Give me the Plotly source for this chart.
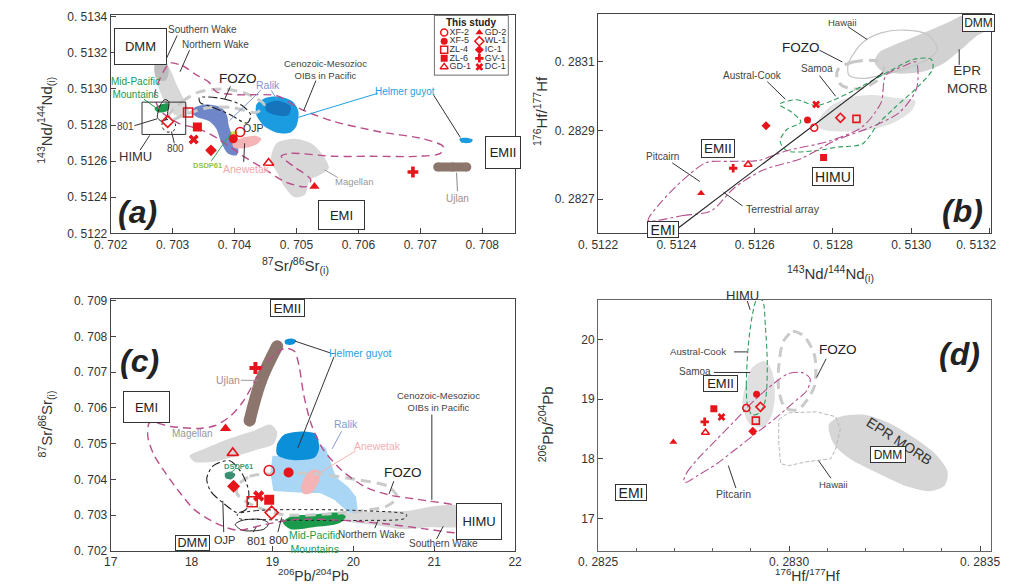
import plotly.graph_objects as go

# ---------------- sample data (this study) ----------------
SAMPLES = ["XF-2", "XF-5", "ZL-4", "ZL-6", "GD-1", "GD-2", "WL-1", "IC-1", "GV-1", "DC-1"]
# (a) 87Sr/86Sr(i) vs 143Nd/144Nd(i)
A_SR = [0.70409, 0.70398, 0.70325, 0.70340, 0.70455, 0.70529, 0.70292, 0.70362, 0.70688, 0.70334]
A_ND = [0.512762, 0.512724, 0.51287, 0.51279, 0.51259, 0.51246, 0.51282, 0.51266, 0.51254, 0.51272]
# (b) 143Nd/144Nd(i) vs 176Hf/177Hf
B_ND = [0.512752, 0.512735, 0.512860, 0.512776, 0.512583, 0.512463, 0.512819, 0.512629, 0.512545, 0.512757]
B_HF = [0.282908, 0.282931, 0.282934, 0.282821, 0.282801, 0.282717, 0.282937, 0.282914, 0.282790, 0.282976]
# (c) 206Pb/204Pb vs 87Sr/86Sr(i)
C_PB = [18.96, 19.20, 18.75, 18.96, 18.51, 18.42, 18.99, 18.52, 18.79, 18.83]
C_SR = [0.704247, 0.704192, 0.70337, 0.703425, 0.70474, 0.705425, 0.703068, 0.703808, 0.70712, 0.703534]
# (d) 176Hf/177Hf vs 206Pb/204Pb
D_HF = [0.282888, 0.282915, 0.282913, 0.282803, 0.282781, 0.282697, 0.282925, 0.282905, 0.282779, 0.282823]
D_PB = [18.85, 19.08, 18.64, 18.84, 18.44, 18.28, 18.87, 18.46, 18.62, 18.70]

# ---------------- reference fields, panel (a) ----------------
A_WAKE_SR = [0.702738, 0.702862, 0.702969, 0.703062, 0.703169, 0.703262, 0.7032, 0.703046, 0.702923, 0.702831, 0.702754, 0.702708]
A_WAKE_ND = [0.513146, 0.513157, 0.513103, 0.513027, 0.512951, 0.512881, 0.512843, 0.512854, 0.512897, 0.512957, 0.513027, 0.513092]
A_SWAKE_SR = [0.702723, 0.702877, 0.702938, 0.702892, 0.702769, 0.702708]
A_SWAKE_ND = [0.513146, 0.513157, 0.513103, 0.513049, 0.513049, 0.513092]
A_MPM_SR = [0.702708, 0.702815, 0.702938, 0.702923, 0.702769]
A_MPM_ND = [0.512892, 0.512914, 0.512919, 0.512881, 0.51287]
A_801_SR = [0.702769, 0.702815, 0.702877, 0.702938, 0.702923, 0.702892, 0.702815, 0.702754]
A_801_ND = [0.512876, 0.512919, 0.512941, 0.51293, 0.512876, 0.512832, 0.512822, 0.512843]
A_800_SR = [0.702846, 0.702969, 0.703046, 0.703015, 0.702908, 0.702831]
A_800_ND = [0.512822, 0.512832, 0.512805, 0.512768, 0.512762, 0.512789]
A_FOZO_SR = [0.702938, 0.703154, 0.703431, 0.703815, 0.7042, 0.704477, 0.704354, 0.703969, 0.703585, 0.7032, 0.702969]
A_FOZO_ND = [0.512854, 0.51293, 0.512984, 0.513, 0.512973, 0.512914, 0.51287, 0.512897, 0.512897, 0.512859, 0.512827]
A_OJP_SR = [0.703431, 0.703815, 0.704123, 0.704262, 0.7042, 0.703923, 0.703615, 0.703446]
A_OJP_ND = [0.512951, 0.512946, 0.512908, 0.512854, 0.512811, 0.512859, 0.512903, 0.512924]
A_RALIK_SR = [0.703354, 0.703554, 0.703785, 0.703877, 0.703908, 0.703969, 0.704062, 0.704031, 0.703892, 0.703785, 0.703708, 0.703585, 0.7034, 0.703308]
A_RALIK_ND = [0.512897, 0.512914, 0.512897, 0.512854, 0.512795, 0.512735, 0.512659, 0.512632, 0.512643, 0.512703, 0.512778, 0.512822, 0.512843, 0.51287]
A_HELMER_SR = [0.704354, 0.704508, 0.704738, 0.704938, 0.705031, 0.705, 0.704892, 0.704692, 0.704477, 0.704354]
A_HELMER_ND = [0.512914, 0.512951, 0.512957, 0.51293, 0.512876, 0.512795, 0.512757, 0.512757, 0.512795, 0.512854]
A_HELMER2_SR = [0.704508, 0.704692, 0.704908, 0.704862, 0.704631, 0.704508]
A_HELMER2_ND = [0.512914, 0.512935, 0.512903, 0.512854, 0.512859, 0.512881]
A_HGUY_SR = [0.707631, 0.707738, 0.707846, 0.707815, 0.707662]
A_HGUY_ND = [0.512724, 0.51273, 0.512719, 0.512703, 0.512703]
A_ANEW_SR = [0.703969, 0.704123, 0.704354, 0.704431, 0.704354, 0.704123, 0.703985]
A_ANEW_ND = [0.512703, 0.51273, 0.51274, 0.512724, 0.512692, 0.51267, 0.512676]
A_DSDP_SR = [0.703938, 0.704046, 0.704046, 0.703938]
A_DSDP_ND = [0.512762, 0.512768, 0.512746, 0.512746]
A_MAG_SR = [0.704692, 0.704969, 0.705246, 0.705431, 0.705523, 0.705354, 0.705215, 0.705138, 0.704969, 0.704815, 0.704692, 0.704585, 0.704615]
A_MAG_ND = [0.512703, 0.512724, 0.512697, 0.512632, 0.512562, 0.512519, 0.512497, 0.512416, 0.5124, 0.512454, 0.512535, 0.512605, 0.512659]
A_UJLAN_SR = [0.70728, 0.70752, 0.70775]
A_UJLAN_ND = [0.512568, 0.512568, 0.512568]
A_OIB_SR = [0.702969, 0.703154, 0.703369, 0.703585, 0.703708, 0.704046, 0.704692, 0.705046, 0.705585, 0.706354,
            0.707046, 0.707369, 0.707323, 0.706969, 0.7062, 0.705585, 0.704892, 0.704754, 0.704969, 0.705231,
            0.705154, 0.704815, 0.704508, 0.704123, 0.703738, 0.703431, 0.703092, 0.702815, 0.702708, 0.702785,
            0.702892, 0.702969]
A_OIB_ND = [0.513146, 0.51313, 0.513081, 0.513038, 0.512984, 0.512968, 0.512962, 0.512892, 0.512822, 0.512762,
            0.512724, 0.512681, 0.512643, 0.512627, 0.512627, 0.512627, 0.512643, 0.512627, 0.512568, 0.512497,
            0.512459, 0.512486, 0.512551, 0.512632, 0.512724, 0.512778, 0.512811, 0.512876, 0.512957, 0.513049,
            0.513119, 0.513146]

# ---------------- reference fields, panel (b) ----------------
B_EPR_ND = [0.512906, 0.512918, 0.512959, 0.513007, 0.513055, 0.513104, 0.513128, 0.513202, 0.513202, 0.513164, 0.513128, 0.51308, 0.513031, 0.512971, 0.512923]
B_EPR_HF = [0.2831, 0.283128, 0.283151, 0.283173, 0.283196, 0.283221, 0.283235, 0.283241, 0.283201, 0.283173, 0.283137, 0.283094, 0.283072, 0.283066, 0.283075]
B_SAMOA_ND = [0.512759, 0.51279, 0.512839, 0.512899, 0.512959, 0.51301, 0.513002, 0.512959, 0.512899, 0.512827, 0.512773]
B_SAMOA_HF = [0.28292, 0.282968, 0.282996, 0.283004, 0.282996, 0.282987, 0.282959, 0.282925, 0.282903, 0.282897, 0.282903]
B_HAW_ND = [0.512839, 0.512875, 0.512923, 0.512983, 0.513043, 0.513067, 0.513043, 0.512983, 0.512923, 0.512875, 0.512841]
B_HAW_HF = [0.283094, 0.283156, 0.283185, 0.283193, 0.283179, 0.283137, 0.283108, 0.28308, 0.283061, 0.283052, 0.283061]
B_FOZO_ND = [0.512814, 0.512851, 0.512911, 0.51293, 0.512911, 0.512863, 0.512822, 0.51281]
B_FOZO_HF = [0.28308, 0.2831, 0.283103, 0.28308, 0.283044, 0.283021, 0.283032, 0.283058]
B_AC_ND = [0.512663, 0.512706, 0.512754, 0.512798, 0.512875, 0.512947, 0.513007, 0.513051, 0.513055, 0.513019,
           0.512959, 0.512916, 0.512875, 0.512814, 0.512754, 0.512682, 0.512665, 0.512682, 0.512718, 0.512694]
B_AC_HF = [0.282976, 0.28299, 0.282973, 0.282987, 0.28303, 0.283075, 0.283108, 0.283108, 0.28308, 0.28303,
           0.282968, 0.28292, 0.282861, 0.282852, 0.282841, 0.282841, 0.282869, 0.282903, 0.282925, 0.282954]
B_PIT_ND = [0.512328, 0.512417, 0.512489, 0.512549, 0.512622, 0.512718, 0.512802, 0.512899, 0.512971, 0.513014, 0.513012,
            0.512983, 0.512935, 0.512923, 0.512875, 0.51279, 0.512682, 0.51261, 0.512537, 0.512477, 0.512417, 0.512357]
B_PIT_HF = [0.282638, 0.282652, 0.282666, 0.282734, 0.282785, 0.282818, 0.282869, 0.282911, 0.282954, 0.283024, 0.2831,
            0.283089, 0.283061, 0.282982, 0.282911, 0.282869, 0.282841, 0.282813, 0.28281, 0.282807, 0.282756, 0.282686]
B_TA_ND = [0.512398, 0.512928]
B_TA_HF = [0.28261, 0.283069]

# ---------------- reference fields, panel (c) ----------------
C_OIB_PB = [19.153, 19.012, 18.859, 18.753, 18.624, 18.471, 18.294, 18.094, 17.741, 17.482, 17.459, 17.529, 17.682, 17.859,
            18.035, 18.306, 18.565, 18.918, 19.306, 19.894, 20.447, 20.918, 21.329, 21.4, 21.329, 20.918, 20.447, 20.153,
            19.859, 19.624, 19.482, 19.388, 19.329, 19.271]
C_OIB_SR = [0.707671, 0.707452, 0.707096, 0.70663, 0.706137, 0.705753, 0.705507, 0.705425, 0.70548, 0.705589, 0.705205,
            0.704712, 0.704164, 0.703616, 0.703151, 0.702767, 0.702575, 0.70274, 0.702877, 0.702849, 0.70274, 0.702603,
            0.702521, 0.70274, 0.703205, 0.703397, 0.703562, 0.703781, 0.704247, 0.704849, 0.705534, 0.706356, 0.707178,
            0.707589]
C_UJLAN_PB = [18.718, 18.859, 19.059]
C_UJLAN_SR = [0.705644, 0.706767, 0.707726]
C_HGUY_PB = [19.153, 19.235, 19.294, 19.259, 19.165]
C_HGUY_SR = [0.70789, 0.707945, 0.70789, 0.707781, 0.707781]
C_HELMER_PB = [19.059, 19.153, 19.388, 19.541, 19.576, 19.518, 19.212, 19.059]
C_HELMER_SR = [0.704986, 0.70526, 0.705342, 0.70526, 0.704849, 0.704603, 0.704548, 0.704685]
C_RALIK_PB = [19.0, 19.506, 19.576, 19.659, 19.718, 19.788, 19.941, 20.035, 20.059, 19.941, 19.765, 19.588, 19.424, 19.176, 19.012, 18.976]
C_RALIK_SR = [0.704658, 0.70463, 0.704986, 0.704877, 0.704493, 0.704055, 0.703781, 0.703507, 0.703041, 0.703068, 0.703425, 0.703616, 0.703616, 0.703644, 0.703671, 0.704164]
C_ANEW_PB = [19.353, 19.412, 19.506, 19.588, 19.576, 19.482, 19.388]
C_ANEW_SR = [0.703753, 0.70411, 0.704274, 0.704219, 0.703945, 0.703616, 0.703589]
C_FOZO_PB = [18.565, 18.718, 19.118, 19.506, 20.094, 20.424, 20.541, 20.424, 19.894, 19.118, 18.718, 18.565]
C_FOZO_SR = [0.703808, 0.704082, 0.704164, 0.704164, 0.703973, 0.703808, 0.703507, 0.70326, 0.703068, 0.703014, 0.703315, 0.703589]
C_OJP_PB = [18.271, 18.471, 18.624, 18.706, 18.682, 18.565, 18.388, 18.235, 18.188]
C_OJP_SR = [0.704384, 0.704521, 0.704164, 0.703671, 0.703178, 0.703068, 0.703342, 0.703671, 0.704027]
C_DSDP_PB = [18.412, 18.482, 18.541, 18.494, 18.424]
C_DSDP_SR = [0.704164, 0.704219, 0.704137, 0.704, 0.704027]
C_800_PB = [18.565, 18.8, 19.506, 20.094, 20.659, 20.635, 20.094, 19.506, 18.8, 18.588]
C_800_SR = [0.703014, 0.703123, 0.703151, 0.703123, 0.703014, 0.702904, 0.702849, 0.702849, 0.702877, 0.702904]
C_801_PB = [18.541, 18.624, 18.859, 18.953, 18.894, 18.624]
C_801_SR = [0.70274, 0.702849, 0.702877, 0.702767, 0.702603, 0.702575]
C_MPM_PB = [19.129, 19.224, 19.506, 19.812, 19.906, 19.824, 19.506, 19.224]
C_MPM_SR = [0.702795, 0.702959, 0.703014, 0.703068, 0.702959, 0.702767, 0.702658, 0.702603]
C_WAKE_PB = [19.859, 20.212, 20.682, 21.035, 21.329, 21.365, 21.329, 20.918, 20.624, 20.212, 19.894]
C_WAKE_SR = [0.703014, 0.703096, 0.703123, 0.70326, 0.703233, 0.702849, 0.702685, 0.702658, 0.702603, 0.70274, 0.702849]
C_MAG_PB = [17.976, 18.153, 18.447, 18.776, 18.976, 19.059, 19.012, 18.8, 18.565, 18.271, 18.035]
C_MAG_SR = [0.704658, 0.704849, 0.705123, 0.70537, 0.705534, 0.705315, 0.704986, 0.704822, 0.704658, 0.704493, 0.704493]

# ---------------- reference fields, panel (d) ----------------
D_AC_HF = [0.282891, 0.282888, 0.282893, 0.282903, 0.282915, 0.28293, 0.282938, 0.282943, 0.282938, 0.282923, 0.282903]
D_AC_PB = [18.902, 19.23, 19.885, 20.377, 20.656, 20.656, 20.213, 19.557, 18.984, 18.77, 18.738]
D_SAMOA_HF = [0.282878, 0.282886, 0.282903, 0.282935, 0.282955, 0.282963, 0.282955, 0.282935, 0.282898]
D_SAMOA_PB = [18.902, 19.23, 19.525, 19.639, 19.475, 19.066, 18.738, 18.541, 18.574]
D_FOZO_HF = [0.282985, 0.28301, 0.28304, 0.283067, 0.283067, 0.283047, 0.283022, 0.28299, 0.282973, 0.282973]
D_FOZO_PB = [19.967, 20.131, 20.049, 19.721, 19.23, 18.984, 18.82, 18.852, 19.148, 19.557]
D_PIT_HF = [0.282724, 0.282731, 0.282761, 0.282811, 0.282861, 0.28291, 0.28296, 0.282998, 0.283035, 0.283055, 0.283047,
            0.28301, 0.28296, 0.28291, 0.282861, 0.282811, 0.282761, 0.282731]
D_PIT_PB = [17.623, 17.754, 18.0, 18.328, 18.656, 18.984, 19.262, 19.426, 19.443, 19.344, 19.148, 18.934, 18.656, 18.41,
            18.164, 17.918, 17.721, 17.607]
D_HAW_HF = [0.282973, 0.282998, 0.283072, 0.283122, 0.283134, 0.283122, 0.283109, 0.283047, 0.282998, 0.282978, 0.282973]
D_HAW_PB = [18.656, 18.77, 18.787, 18.705, 18.492, 18.164, 18.0, 17.951, 17.885, 17.918, 18.246]
D_EPR_HF = [0.283104, 0.283134, 0.283197, 0.283259, 0.283321, 0.283383, 0.283415, 0.283408, 0.283371, 0.283308, 0.283234, 0.283159, 0.283117]
D_EPR_PB = [18.574, 18.705, 18.738, 18.607, 18.377, 18.082, 17.787, 17.557, 17.459, 17.541, 17.754, 18.0, 18.246]

# ---------------- ticks ----------------
A_XTICKS = [0.702, 0.703, 0.704, 0.705, 0.706, 0.707, 0.708]
A_YTICKS = [0.5122, 0.5124, 0.5126, 0.5128, 0.5130, 0.5132, 0.5134]
B_XTICKS = [0.5122, 0.5124, 0.5126, 0.5128, 0.5130, 0.5132]
B_YTICKS = [0.2827, 0.2829, 0.2831]
C_XTICKS = [17, 18, 19, 20, 21, 22]
C_YTICKS = [0.702, 0.703, 0.704, 0.705, 0.706, 0.707, 0.708, 0.709]
D_XTICKS = [0.2825, 0.2830, 0.2835]
D_YTICKS = [17, 18, 19, 20]

# ---------------- styling ----------------
W, H = 1024, 585
FONT = "Liberation Sans, Arial, Helvetica, sans-serif"
RED = "#e8141b"
GRAY = "#d8d8d8"
PURPLE = "#b94e8a"
NBSP = "\u00a0"
SYMBOLS = {"XF-2": "circle-open", "XF-5": "circle", "ZL-4": "square-open", "ZL-6": "square",
           "GD-1": "triangle-up-open", "GD-2": "triangle-up", "WL-1": "diamond-open", "IC-1": "diamond",
           "GV-1": "cross", "DC-1": "x"}

fig = go.Figure()

AX = {"a": ("x", "y"), "b": ("x2", "y2"), "c": ("x3", "y3"), "d": ("x4", "y4")}


def closed(v):
    return list(v) + [v[0]]


def field(xs, ys, p, fill=None, line=None, width=1.0, dash=None, smooth=True, close=True):
    x = closed(xs) if close else list(xs)
    y = closed(ys) if close else list(ys)
    fig.add_trace(go.Scatter(
        x=x, y=y, xaxis=AX[p][0], yaxis=AX[p][1], mode="lines",
        fill="toself" if fill else "none", fillcolor=fill,
        line=dict(color=line if line else "rgba(0,0,0,0)", width=width if line else 0,
                  dash=dash, shape="spline" if smooth else "linear", smoothing=0.8),
        hoverinfo="skip", showlegend=False))


def bar(xs, ys, p, color, width):
    fig.add_trace(go.Scatter(
        x=xs, y=ys, xaxis=AX[p][0], yaxis=AX[p][1], mode="lines+markers",
        line=dict(color=color, width=width, shape="spline"),
        marker=dict(color=color, size=width, line=dict(width=0)),
        hoverinfo="skip", showlegend=False))


def samples(xs, ys, p, size):
    for name, x, y in zip(SAMPLES, xs, ys):
        sym = SYMBOLS[name]
        op = sym.endswith("-open")
        fig.add_trace(go.Scatter(
            x=[x], y=[y], xaxis=AX[p][0], yaxis=AX[p][1], mode="markers", name=name,
            marker=dict(symbol=sym, size=size, color=RED, line=dict(color=RED, width=1.6 if op else 0)),
            showlegend=False))


# ---- panel (a)
field(A_WAKE_SR, A_WAKE_ND, "a", fill=GRAY)
field(A_SWAKE_SR, A_SWAKE_ND, "a", fill="#bdbdbd")
field(A_MAG_SR, A_MAG_ND, "a", fill=GRAY)
field(A_RALIK_SR, A_RALIK_ND, "a", fill="#6f86c9")
field(A_HELMER_SR, A_HELMER_ND, "a", fill="#1b9be0")
field(A_HELMER2_SR, A_HELMER2_ND, "a", fill="#1574bb")
field(A_HGUY_SR, A_HGUY_ND, "a", fill="#1b9be0")
field(A_ANEW_SR, A_ANEW_ND, "a", fill="#f4b5b7")
field(A_DSDP_SR, A_DSDP_ND, "a", fill="#d8e03c", smooth=False)
field(A_MPM_SR, A_MPM_ND, "a", fill="#1b9a4b")
bar(A_UJLAN_SR, A_UJLAN_ND, "a", "#8c756c", 9)
field(A_FOZO_SR, A_FOZO_ND, "a", line="#cacaca", width=3, dash="10px,6px")
field(A_OJP_SR, A_OJP_ND, "a", line="#222", width=1.1, dash="dashdot")
field(A_801_SR, A_801_ND, "a", line="#222", width=1)
field(A_800_SR, A_800_ND, "a", line="#222", width=1, dash="dot")
field(A_OIB_SR, A_OIB_ND, "a", line=PURPLE, width=1.4, dash="8px,5px")
samples(A_SR, A_ND, "a", 9)

# ---- panel (b)
field(B_EPR_ND, B_EPR_HF, "b", fill="#d2d2d2")
field(B_SAMOA_ND, B_SAMOA_HF, "b", fill="#e2e2e2")
field(B_HAW_ND, B_HAW_HF, "b", line="#c4c4c4", width=1.2)
field(B_FOZO_ND, B_FOZO_HF, "b", line="#c8c8c8", width=3, dash="10px,6px")
field(B_AC_ND, B_AC_HF, "b", line="#2e9e5b", width=1.1, dash="5px,3px")
field(B_PIT_ND, B_PIT_HF, "b", line="#b4508f", width=1.1, dash="dashdot")
fig.add_trace(go.Scatter(x=B_TA_ND, y=B_TA_HF, xaxis="x2", yaxis="y2", mode="lines",
                         line=dict(color="#222", width=1.1), hoverinfo="skip", showlegend=False))
samples(B_ND, B_HF, "b", 7)

# ---- panel (c)
field(C_WAKE_PB, C_WAKE_SR, "c", fill=GRAY)
field(C_MAG_PB, C_MAG_SR, "c", fill=GRAY)
field(C_RALIK_PB, C_RALIK_SR, "c", fill="#a9d6f4", smooth=False)
field(C_HELMER_PB, C_HELMER_SR, "c", fill="#0b8fd8")
field(C_ANEW_PB, C_ANEW_SR, "c", fill="#f4b3b5")
field(C_HGUY_PB, C_HGUY_SR, "c", fill="#0b8fd8")
field(C_MPM_PB, C_MPM_SR, "c", fill="#1b9a4b")
field(C_DSDP_PB, C_DSDP_SR, "c", fill="#3a8f72")
bar(C_UJLAN_PB, C_UJLAN_SR, "c", "#8c756c", 12)
field(C_FOZO_PB, C_FOZO_SR, "c", line="#cacaca", width=3, dash="10px,6px")
field(C_OJP_PB, C_OJP_SR, "c", line="#222", width=1.1, dash="dashdot")
field(C_800_PB, C_800_SR, "c", line="#222", width=1, dash="dot")
field(C_801_PB, C_801_SR, "c", line="#222", width=1)
field(C_OIB_PB, C_OIB_SR, "c", line=PURPLE, width=1.4, dash="8px,5px")
samples(C_PB, C_SR, "c", 10)

# ---- panel (d)
field(D_EPR_HF, D_EPR_PB, "d", fill="#d6d6d6")
field(D_SAMOA_HF, D_SAMOA_PB, "d", fill="#e0e0e0")
field(D_HAW_HF, D_HAW_PB, "d", line="#b8b8b8", width=1, dash="4px,2px", smooth=False)
field(D_FOZO_HF, D_FOZO_PB, "d", line="#cacaca", width=3, dash="10px,6px")
field(D_AC_HF, D_AC_PB, "d", line="#2e9e5b", width=1.1, dash="5px,3px")
field(D_PIT_HF, D_PIT_PB, "d", line="#b4508f", width=1.1, dash="dashdot")
samples(D_HF, D_PB, "d", 7)

# ---- "This study" key, drawn on its own small axis
fig.add_trace(go.Scatter(
    x=[i // 5 for i in range(len(SAMPLES))], y=[i % 5 for i in range(len(SAMPLES))],
    xaxis="x5", yaxis="y5", mode="markers+text", text=SAMPLES, textposition="middle right",
    textfont=dict(size=9, color="#333", family=FONT),
    marker=dict(symbol=[SYMBOLS[s] for s in SAMPLES], size=7, color=RED,
                line=dict(color=RED, width=[1.5 if SYMBOLS[s].endswith("-open") else 0 for s in SAMPLES])),
    hoverinfo="skip", showlegend=False))


# ---------------- axes ----------------
def fmt(v, nd):
    return f"{v:.{nd}f}".replace("0.", "0. ", 1)


def axis(domain, rng, ticks, text, anchor, **kw):
    d = dict(domain=domain, range=rng, tickvals=ticks, ticktext=text, anchor=anchor,
             showgrid=False, zeroline=False, showline=True, mirror=True, linecolor="#444", linewidth=1,
             ticks="inside", ticklen=5, tickcolor="#444", ticklabeloverflow="allow",
             tickfont=dict(size=12, color="#333", family=FONT))
    d.update(kw)
    return d


def px_x(v):
    return v / W


def px_y(v):
    return 1 - v / H


# last Nd tick label in (b) sits inside the frame, as in the original
B_XTEXT = [fmt(v, 4) for v in B_XTICKS]
B_XTEXT[-1] = B_XTEXT[-1] + NBSP * 8

layout = dict(
    width=W, height=H, margin=dict(l=0, r=0, t=0, b=0), autosize=False,
    paper_bgcolor="white", plot_bgcolor="white", showlegend=False,
    font=dict(family=FONT, color="#333"),
    xaxis=axis([px_x(87), px_x(512)], [0.702, 0.70852], A_XTICKS, [fmt(v, 3) for v in A_XTICKS], "y"),
    yaxis=axis([px_y(225), px_y(2)], [0.5122, 0.51341], A_YTICKS, [fmt(v, 4) for v in A_YTICKS], "x"),
    xaxis2=axis([px_x(600), px_x(1014)], [0.5122, 0.513205], B_XTICKS, B_XTEXT, "y2"),
    yaxis2=axis([px_y(225), px_y(1)], [0.28260, 0.28324], B_YTICKS, [fmt(v, 4) for v in B_YTICKS], "x2"),
    xaxis3=axis([px_x(87), px_x(513)], [17, 22.005], C_XTICKS, [str(v) for v in C_XTICKS], "y3"),
    yaxis3=axis([px_y(549), px_y(292)], [0.702, 0.70905], C_YTICKS, [fmt(v, 3) for v in C_YTICKS], "x3"),
    xaxis4=axis([px_x(600), px_x(1014)], [0.2825, 0.28353], D_XTICKS, [fmt(v, 4) for v in D_XTICKS], "y4",
                linecolor="#666", minor=dict(dtick=0.0001, tick0=0.2825, ticks="inside", ticklen=3, tickcolor="#666")),
    yaxis4=axis([px_y(549), px_y(293)], [16.46, 20.66], D_YTICKS, [str(v) for v in D_YTICKS], "x4", linecolor="#666"),
    xaxis5=dict(domain=[px_x(428), px_x(505)], range=[-0.27, 1.81], visible=False, anchor="y5", fixedrange=True),
    yaxis5=dict(domain=[px_y(63), px_y(3)], range=[4.91, -1.94], visible=False, anchor="x5", fixedrange=True),
)
fig.update_layout(**layout)

annotations = []
shapes = []


def label(text, x, y, size, color="#333", **kw):
    a = dict(text=text, x=px_x(x), y=px_y(y), xref="paper", yref="paper", showarrow=False,
             font=dict(size=size, color=color, family=FONT), xanchor="center", yanchor="middle")
    a.update(kw)
    annotations.append(a)


def box(text, cx, cy, w, h, size):
    annotations.append(dict(text=text, x=px_x(cx), y=px_y(cy), xref="paper", yref="paper", showarrow=False,
                            font=dict(size=size, color="#222", family=FONT), width=w, height=h,
                            bordercolor="#333", borderwidth=1, borderpad=0, bgcolor="white",
                            xanchor="center", yanchor="middle", align="center", valign="middle"))


def leader(x0, y0, x1, y1, color="#333", width=1):
    shapes.append(dict(type="line", xref="paper", yref="paper", x0=px_x(x0), y0=px_y(y0),
                       x1=px_x(x1), y1=px_y(y1), line=dict(color=color, width=width)))


# key frame
shapes.append(dict(type="rect", xref="paper", yref="paper", x0=px_x(428), y0=px_y(63), x1=px_x(505), y1=px_y(3),
                   line=dict(color="#444", width=1.5), fillcolor="white", layer="below"))
label("<b>This study</b>", 466, 10, 10, "#222")

# panel (a) labels
for t, x, y, s, c in [
    ("Southern Wake", 184, 17, 10, "#444"), ("Northern Wake", 197, 32, 10, "#444"),
    ("FOZO", 221, 67, 13.5, "#222"), ("Mid-Pacific<br>Mountains", 113, 77, 10, "#1a9a4a"),
    ("801", 103, 116, 10, "#444"), ("800", 155, 138, 10, "#444"), ("HIMU", 113, 147, 13, "#333"),
    ("Ralik", 253, 73, 10.5, "#7f93d4"), ("OJP", 237, 117, 10.5, "#333"),
    ("Anewetak", 230, 159, 10.5, "#f2a8ab"), ("<b>DSDP61</b>", 189, 156, 7.5, "#8dc63f"),
    ("Cenozoic-Mesozioc<br>OIBs in Pacific", 313, 58, 9.5, "#444"),
    ("Helmer guyot", 397, 80, 10, "#1fa0e2"), ("Magellan", 344, 172, 9.5, "#999"),
    ("Ujlan", 452, 189, 10, "#a88b84")]:
    label(t, x, y, s, c)
for seg in [(157, 23, 143, 52), (170, 38, 160, 60), (213, 75, 207, 88), (122, 88, 135, 97, "#1a9a4a"),
            (112, 115, 136, 108), (151, 121, 154, 133), (118, 140, 128, 125),
            (245, 79, 212, 110, "#7f93d4"), (256, 79, 262, 88, "#7f93d4"), (227, 152, 228, 133),
            (193, 151, 214, 122, "#3aa35a"), (303, 69, 290, 100), (368, 82, 283, 107, "#1fa0e2"),
            (427, 84, 455, 127), (326, 168, 312, 160, "#999"), (451, 163, 452, 182, "#888")]:
    leader(*seg)
box("DMM", 118.5, 34.5, 51, 35, 13)
box("EMI", 329.5, 206, 45, 28, 13)
box("EMII", 500, 142.5, 34, 31, 13)
shapes.append(dict(type="rect", xref="paper", yref="paper", x0=px_x(120), y0=px_y(124), x1=px_x(166), y1=px_y(91),
                   line=dict(color="#333", width=1)))

# panel (b) labels
for t, x, y, s, c in [
    ("Hawaii", 857, 10, 9.5, "#444"), ("FOZO", 813, 35, 13.5, "#222"), ("Samoa", 830, 57, 10, "#444"),
    ("Austral-Cook", 763, 64, 10, "#444"), ("EPR<br>MORB", 989, 68, 13.5, "#333"),
    ("Pitcairn", 668, 146, 10, "#444"), ("Terrestrial array", 795, 200, 10.5, "#444")]:
    label(t, x, y, s, c)
for seg in [(863, 14, 883, 27), (833, 38, 857, 50), (833, 64, 850, 85), (778, 70, 797, 88),
            (980, 37, 980, 53), (678, 153, 707, 172), (732, 183, 752, 197)]:
    leader(*seg)
box("DMM", 1000, 10, 31, 16, 12)
box("EMII", 726, 138.5, 32, 17, 13.5)
box("HIMU", 847, 166.5, 40, 17, 14)
box("EMI", 668, 221, 30, 15, 14)

# panel (c) labels
for t, x, y, s, c in [
    ("Ujlan", 211, 375, 10.5, "#a0908a"), ("Magellan", 173, 429, 10, "#999"),
    ("Helmer guyot", 350, 347, 10.5, "#1fa0e2"), ("Ralik", 335, 420, 10.5, "#8899d6"),
    ("Anewetak", 368, 442, 10.5, "#f4b0b3"), ("Cenozoic-Mesozioc<br>OIBs in Pacific", 432, 397, 9.5, "#444"),
    ("FOZO", 395, 469, 13.5, "#222"), ("<b>DSDP61</b>", 222, 463, 7.5, "#3d9a7a"),
    ("OJP", 207, 538, 11, "#333"), ("801", 240, 539, 11.5, "#333"), ("800", 264, 538, 11.5, "#333"),
    ("Mid-Pacific<br>Mountains", 302, 540, 10.5, "#1f9a4a"), ("Northern Wake", 361, 532, 10, "#444"),
    ("Southern Wake", 437, 542, 10, "#444")]:
    label(t, x, y, s, c)
for seg in [(224, 375, 242, 375, "#999"), (318, 347, 281, 335), (322, 351, 284, 444),
            (330, 427, 320, 445, "#8899d6"), (345, 447, 306, 470, "#f4b0b3"), (425, 410, 425, 497),
            (385, 478, 380, 491), (212, 470, 218, 466, "#3d9a7a"), (206, 530, 205, 498),
            (237, 530, 240, 525), (263, 530, 267, 515), (365, 526, 368, 519), (430, 537, 437, 524)]:
    leader(*seg)
box("EMI", 124.5, 402, 45, 30, 13)
box("EMII", 273.5, 301, 33, 16, 13.5)
box("HIMU", 475, 519.5, 44, 35, 13)
box("DMM", 173.5, 541.5, 33, 14, 12.5)

# panel (d) labels
for t, x, y, s, c in [
    ("HIMU", 752, 288, 13, "#333"), ("Austral-Cook", 705, 346, 9.7, "#444"), ("Samoa", 702, 366, 10, "#444"),
    ("FOZO", 852, 344, 13.5, "#222"), ("Hawaii", 848, 481, 9.5, "#444"), ("Pitcarin", 743, 491, 10.5, "#444")]:
    label(t, x, y, s, c)
label("EPR MORB", 917, 437, 14, "#333", textangle=33)
for seg in [(757, 294, 760, 303), (743, 346, 757, 346), (722, 367, 760, 367), (840, 353, 830, 372),
            (832, 457, 845, 475), (737, 462, 745, 485)]:
    leader(*seg)
box("EMII", 728.5, 378.5, 33, 15, 13)
box("DMM", 905, 450.5, 34, 15, 12)
box("EMI", 635, 489.5, 30, 15, 14)

# panel letters
for t, x, y in [("(a)", 115, 203), ("(b)", 983, 202), ("(c)", 117, 355), ("(d)", 980, 348)]:
    label(f"<b><i>{t}</i></b>", x, y, 32, "#222")

# axis titles
label("<sup>87</sup>Sr/<sup>86</sup>Sr<sub>(i)</sub>", 282, 258, 15, "#333")
label("<sup>143</sup>Nd/<sup>144</sup>Nd<sub>(i)</sub>", 19, 110, 15, "#333", textangle=-90)
label("<sup>143</sup>Nd/<sup>144</sup>Nd<sub>(i)</sub>", 845, 266, 15, "#333")
label("<sup>176</sup>Hf/<sup>177</sup>Hf", 540, 100, 15, "#333", textangle=-90)
label("<sup>206</sup>Pb/<sup>204</sup>Pb", 300, 585, 14, "#333", yanchor="bottom")
label("<sup>87</sup>Sr/<sup>86</sup>Sr<sub>(i)</sub>", 19, 420, 15, "#333", textangle=-90)
label("<sup>176</sup>Hf/<sup>177</sup>Hf", 820, 585, 14, "#333", yanchor="bottom")
label("<sup>206</sup>Pb/<sup>204</sup>Pb", 545, 420, 15, "#333", textangle=-90)

fig.update_layout(annotations=annotations, shapes=shapes)
fig.write_html("out.html")
